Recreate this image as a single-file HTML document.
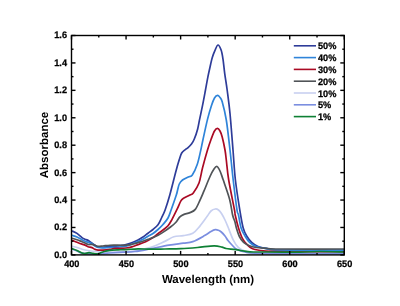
<!DOCTYPE html>
<html><head><meta charset="utf-8"><style>
html,body{margin:0;padding:0;background:#fff;width:400px;height:306px;overflow:hidden}
svg{display:block;will-change:transform}
</style></head><body>
<svg width="400" height="306" viewBox="0 0 400 306" text-rendering="geometricPrecision">
<defs><clipPath id="pc"><rect x="71.5" y="35.5" width="272.8" height="219.4"/></clipPath></defs>
<g clip-path="url(#pc)" fill="none" stroke-width="1.7" stroke-linejoin="round" stroke-linecap="round">
<path d="M72.00,230.90 C72.83,231.32 75.33,232.28 77.00,233.40 C78.67,234.52 80.67,236.63 82.00,237.60 C83.33,238.57 84.17,238.82 85.00,239.20 C85.83,239.58 86.33,239.60 87.00,239.90 C87.67,240.20 88.17,240.45 89.00,241.00 C89.83,241.55 91.00,242.50 92.00,243.20 C93.00,243.90 94.00,244.60 95.00,245.20 C96.00,245.80 96.67,246.45 98.00,246.80 C99.33,247.15 101.00,247.38 103.00,247.30 C105.00,247.22 108.00,246.45 110.00,246.30 C112.00,246.15 113.33,246.52 115.00,246.40 C116.67,246.28 118.17,245.92 120.00,245.60 C121.83,245.28 123.83,245.05 126.00,244.50 C128.17,243.95 131.00,243.05 133.00,242.30 C135.00,241.55 136.33,240.88 138.00,240.00 C139.67,239.12 141.33,238.13 143.00,237.00 C144.67,235.87 146.33,234.45 148.00,233.20 C149.67,231.95 151.33,230.90 153.00,229.50 C154.67,228.10 156.58,226.72 158.00,224.80 C159.42,222.88 160.32,220.47 161.50,218.00 C162.68,215.53 163.72,213.83 165.10,210.00 C166.48,206.17 167.98,201.50 169.80,195.00 C171.62,188.50 174.42,176.90 176.00,171.00 C177.58,165.10 178.35,162.60 179.30,159.60 C180.25,156.60 180.75,154.63 181.70,153.00 C182.65,151.37 184.05,150.60 185.00,149.80 C185.95,149.00 186.32,149.15 187.40,148.20 C188.48,147.25 190.35,145.63 191.50,144.10 C192.65,142.57 193.28,141.48 194.30,139.00 C195.32,136.52 196.72,132.47 197.60,129.20 C198.48,125.93 198.78,123.32 199.60,119.40 C200.42,115.48 201.55,110.43 202.50,105.70 C203.45,100.97 204.40,95.82 205.30,91.00 C206.20,86.18 207.02,81.22 207.90,76.80 C208.78,72.38 209.87,67.73 210.60,64.50 C211.33,61.27 211.57,59.77 212.30,57.40 C213.03,55.03 214.05,52.37 215.00,50.30 C215.95,48.23 216.97,45.00 218.00,45.00 C219.03,45.00 220.37,47.93 221.20,50.30 C222.03,52.67 222.42,55.37 223.00,59.20 C223.58,63.03 223.98,68.00 224.70,73.30 C225.42,78.60 226.42,84.30 227.30,91.00 C228.18,97.70 229.05,103.67 230.00,113.50 C230.95,123.33 232.10,138.92 233.00,150.00 C233.90,161.08 234.27,170.00 235.40,180.00 C236.53,190.00 238.50,202.00 239.80,210.00 C241.10,218.00 242.00,223.58 243.20,228.00 C244.40,232.42 245.58,234.10 247.00,236.50 C248.42,238.90 249.87,240.73 251.70,242.40 C253.53,244.07 255.62,245.50 258.00,246.50 C260.38,247.50 262.33,247.82 266.00,248.40 C269.67,248.98 267.00,249.70 280.00,250.00 C293.00,250.30 333.33,250.17 344.00,250.20" stroke="#2e3c99"/>
<path d="M72.00,235.30 C72.83,235.58 75.33,236.27 77.00,237.00 C78.67,237.73 80.67,239.00 82.00,239.70 C83.33,240.40 84.17,240.83 85.00,241.20 C85.83,241.57 85.83,241.50 87.00,241.90 C88.17,242.30 90.67,242.92 92.00,243.60 C93.33,244.28 94.00,245.35 95.00,246.00 C96.00,246.65 96.67,247.18 98.00,247.50 C99.33,247.82 101.00,247.90 103.00,247.90 C105.00,247.90 107.50,247.63 110.00,247.50 C112.50,247.37 115.33,247.32 118.00,247.10 C120.67,246.88 123.50,246.75 126.00,246.20 C128.50,245.65 131.00,244.58 133.00,243.80 C135.00,243.02 136.33,242.25 138.00,241.50 C139.67,240.75 141.33,240.17 143.00,239.30 C144.67,238.43 146.33,237.27 148.00,236.30 C149.67,235.33 151.33,234.63 153.00,233.50 C154.67,232.37 156.33,231.00 158.00,229.50 C159.67,228.00 161.33,226.42 163.00,224.50 C164.67,222.58 166.65,220.42 168.00,218.00 C169.35,215.58 169.72,213.83 171.10,210.00 C172.48,206.17 175.22,198.33 176.30,195.00 C177.38,191.67 177.10,191.83 177.60,190.00 C178.10,188.17 178.48,185.67 179.30,184.00 C180.12,182.33 180.88,181.22 182.50,180.00 C184.12,178.78 187.37,177.52 189.00,176.70 C190.63,175.88 190.93,177.13 192.30,175.10 C193.67,173.07 195.83,168.45 197.20,164.50 C198.57,160.55 199.55,155.48 200.50,151.40 C201.45,147.32 201.73,145.33 202.90,140.00 C204.07,134.67 206.08,125.12 207.50,119.40 C208.92,113.68 210.23,109.27 211.40,105.70 C212.57,102.13 213.47,99.73 214.50,98.00 C215.53,96.27 216.68,95.38 217.60,95.30 C218.52,95.22 219.23,96.42 220.00,97.50 C220.77,98.58 221.15,98.05 222.20,101.80 C223.25,105.55 225.00,111.97 226.30,120.00 C227.60,128.03 228.85,140.00 230.00,150.00 C231.15,160.00 232.03,170.00 233.20,180.00 C234.37,190.00 236.12,204.17 237.00,210.00 C237.88,215.83 237.82,212.00 238.50,215.00 C239.18,218.00 239.97,224.42 241.10,228.00 C242.23,231.58 243.88,234.10 245.30,236.50 C246.72,238.90 247.82,240.73 249.60,242.40 C251.38,244.07 253.27,245.50 256.00,246.50 C258.73,247.50 262.00,247.82 266.00,248.40 C270.00,248.98 267.00,249.70 280.00,250.00 C293.00,250.30 333.33,250.17 344.00,250.20" stroke="#2f84d9"/>
<path d="M72.00,240.20 C72.83,240.53 75.33,241.55 77.00,242.20 C78.67,242.85 80.67,243.62 82.00,244.10 C83.33,244.58 84.00,244.67 85.00,245.10 C86.00,245.53 86.83,246.28 88.00,246.70 C89.17,247.12 90.83,247.15 92.00,247.60 C93.17,248.05 94.00,248.98 95.00,249.40 C96.00,249.82 96.67,249.98 98.00,250.10 C99.33,250.22 101.00,250.22 103.00,250.10 C105.00,249.98 108.00,249.68 110.00,249.40 C112.00,249.12 112.33,248.63 115.00,248.40 C117.67,248.17 123.00,248.32 126.00,248.00 C129.00,247.68 131.00,247.07 133.00,246.50 C135.00,245.93 136.33,245.22 138.00,244.60 C139.67,243.98 141.33,243.48 143.00,242.80 C144.67,242.12 146.33,241.38 148.00,240.50 C149.67,239.62 151.33,238.63 153.00,237.50 C154.67,236.37 156.33,234.95 158.00,233.70 C159.67,232.45 161.33,231.32 163.00,230.00 C164.67,228.68 166.53,227.50 168.00,225.80 C169.47,224.10 170.30,222.53 171.80,219.80 C173.30,217.07 175.48,212.55 177.00,209.40 C178.52,206.25 179.82,202.75 180.90,200.90 C181.98,199.05 181.98,199.28 183.50,198.30 C185.02,197.32 188.37,195.90 190.00,195.00 C191.63,194.10 191.80,194.90 193.30,192.90 C194.80,190.90 197.47,187.15 199.00,183.00 C200.53,178.85 201.08,173.50 202.50,168.00 C203.92,162.50 206.05,154.83 207.50,150.00 C208.95,145.17 210.03,142.17 211.20,139.00 C212.37,135.83 213.47,132.77 214.50,131.00 C215.53,129.23 216.48,128.40 217.40,128.40 C218.32,128.40 219.20,129.57 220.00,131.00 C220.80,132.43 221.37,133.83 222.20,137.00 C223.03,140.17 224.32,146.17 225.00,150.00 C225.68,153.83 225.68,155.00 226.30,160.00 C226.92,165.00 227.33,171.67 228.70,180.00 C230.07,188.33 233.42,204.17 234.50,210.00 C235.58,215.83 234.53,212.00 235.20,215.00 C235.87,218.00 237.45,224.42 238.50,228.00 C239.55,231.58 240.58,234.33 241.50,236.50 C242.42,238.67 243.08,239.67 244.00,241.00 C244.92,242.33 246.00,243.45 247.00,244.50 C248.00,245.55 248.67,246.47 250.00,247.30 C251.33,248.13 252.33,248.87 255.00,249.50 C257.67,250.13 260.17,250.72 266.00,251.10 C271.83,251.48 277.00,251.67 290.00,251.80 C303.00,251.93 335.00,251.88 344.00,251.90" stroke="#aa0a24"/>
<path d="M72.00,238.30 C72.83,238.53 75.33,239.13 77.00,239.70 C78.67,240.27 80.67,241.17 82.00,241.70 C83.33,242.23 84.00,242.43 85.00,242.90 C86.00,243.37 86.83,244.25 88.00,244.50 C89.17,244.75 90.83,244.27 92.00,244.40 C93.17,244.53 94.00,244.97 95.00,245.30 C96.00,245.63 96.67,246.28 98.00,246.40 C99.33,246.52 101.00,246.19 103.00,246.00 C105.00,245.81 107.50,245.38 110.00,245.25 C112.50,245.12 115.33,245.21 118.00,245.20 C120.67,245.19 123.50,245.40 126.00,245.20 C128.50,245.00 131.00,244.43 133.00,244.00 C135.00,243.57 136.33,243.07 138.00,242.60 C139.67,242.13 141.33,241.73 143.00,241.20 C144.67,240.67 146.33,240.02 148.00,239.40 C149.67,238.78 151.33,238.20 153.00,237.50 C154.67,236.80 156.17,236.18 158.00,235.20 C159.83,234.22 161.92,232.97 164.00,231.60 C166.08,230.23 168.55,228.52 170.50,227.00 C172.45,225.48 174.18,224.13 175.70,222.50 C177.22,220.87 178.30,218.52 179.60,217.20 C180.90,215.88 181.77,215.37 183.50,214.60 C185.23,213.83 188.03,213.47 190.00,212.60 C191.97,211.73 193.63,211.47 195.30,209.40 C196.97,207.33 198.57,203.23 200.00,200.20 C201.43,197.17 202.23,195.15 203.90,191.20 C205.57,187.25 208.32,180.20 210.00,176.50 C211.68,172.80 212.83,170.67 214.00,169.00 C215.17,167.33 216.00,166.17 217.00,166.50 C218.00,166.83 218.98,168.82 220.00,171.00 C221.02,173.18 221.50,174.90 223.10,179.60 C224.70,184.30 228.02,193.30 229.60,199.20 C231.18,205.10 231.70,211.20 232.60,215.00 C233.50,218.80 234.37,219.83 235.00,222.00 C235.63,224.17 235.67,225.58 236.40,228.00 C237.13,230.42 238.20,234.10 239.40,236.50 C240.60,238.90 241.93,240.85 243.60,242.40 C245.27,243.95 247.33,244.95 249.40,245.80 C251.47,246.65 253.23,247.08 256.00,247.50 C258.77,247.92 262.00,248.05 266.00,248.30 C270.00,248.55 267.00,248.88 280.00,249.00 C293.00,249.12 333.33,249.00 344.00,249.00" stroke="#505458"/>
<path d="M72.00,246.30 C72.83,246.50 75.33,247.02 77.00,247.50 C78.67,247.98 80.17,248.70 82.00,249.20 C83.83,249.70 85.83,250.12 88.00,250.50 C90.17,250.88 92.50,251.20 95.00,251.50 C97.50,251.80 100.50,252.18 103.00,252.30 C105.50,252.42 107.17,252.28 110.00,252.20 C112.83,252.12 115.83,252.03 120.00,251.80 C124.17,251.57 130.00,251.52 135.00,250.80 C140.00,250.08 145.12,249.03 150.00,247.50 C154.88,245.97 160.33,243.38 164.30,241.60 C168.27,239.82 170.63,237.80 173.80,236.80 C176.97,235.80 180.13,236.18 183.30,235.60 C186.47,235.02 190.03,234.88 192.80,233.30 C195.57,231.72 197.53,228.88 199.90,226.10 C202.27,223.32 205.15,219.12 207.00,216.60 C208.85,214.08 209.62,212.27 211.00,211.00 C212.38,209.73 214.05,209.17 215.30,209.00 C216.55,208.83 217.47,209.25 218.50,210.00 C219.53,210.75 220.42,211.83 221.50,213.50 C222.58,215.17 223.92,217.75 225.00,220.00 C226.08,222.25 226.63,223.70 228.00,227.00 C229.37,230.30 231.45,236.35 233.20,239.80 C234.95,243.25 236.53,245.83 238.50,247.70 C240.47,249.57 241.42,250.12 245.00,251.00 C248.58,251.88 243.50,252.57 260.00,253.00 C276.50,253.43 330.00,253.50 344.00,253.60" stroke="#c8d0f0"/>
<path d="M72.00,249.20 C72.83,249.50 75.33,250.33 77.00,251.00 C78.67,251.67 79.50,252.73 82.00,253.20 C84.50,253.67 88.50,253.73 92.00,253.80 C95.50,253.87 100.00,253.73 103.00,253.60 C106.00,253.47 107.17,253.20 110.00,253.00 C112.83,252.80 115.83,252.65 120.00,252.40 C124.17,252.15 130.00,252.08 135.00,251.50 C140.00,250.92 144.33,249.97 150.00,248.90 C155.67,247.83 163.45,246.05 169.00,245.10 C174.55,244.15 179.33,243.78 183.30,243.20 C187.27,242.62 189.25,242.87 192.80,241.60 C196.35,240.33 201.57,237.28 204.60,235.60 C207.63,233.92 209.22,232.48 211.00,231.50 C212.78,230.52 214.05,229.90 215.30,229.70 C216.55,229.50 217.50,229.92 218.50,230.30 C219.50,230.68 220.22,231.05 221.30,232.00 C222.38,232.95 223.88,234.58 225.00,236.00 C226.12,237.42 226.83,239.00 228.00,240.50 C229.17,242.00 230.50,243.48 232.00,245.00 C233.50,246.52 234.83,248.43 237.00,249.60 C239.17,250.77 241.17,251.38 245.00,252.00 C248.83,252.62 243.50,253.03 260.00,253.30 C276.50,253.57 330.00,253.55 344.00,253.60" stroke="#7b8ee0"/>
<path d="M72.00,248.60 C72.83,248.92 75.33,249.77 77.00,250.50 C78.67,251.23 80.67,252.50 82.00,253.00 C83.33,253.50 83.83,253.57 85.00,253.50 C86.17,253.43 87.67,252.62 89.00,252.60 C90.33,252.58 91.50,253.18 93.00,253.40 C94.50,253.62 96.50,254.10 98.00,253.90 C99.50,253.70 100.50,252.70 102.00,252.20 C103.50,251.70 105.33,251.25 107.00,250.90 C108.67,250.55 110.17,250.28 112.00,250.10 C113.83,249.92 115.67,249.88 118.00,249.80 C120.33,249.72 122.67,249.77 126.00,249.60 C129.33,249.43 134.00,248.87 138.00,248.80 C142.00,248.73 145.50,249.17 150.00,249.20 C154.50,249.23 159.85,249.08 165.00,249.00 C170.15,248.92 175.48,248.95 180.90,248.70 C186.32,248.45 191.97,247.98 197.50,247.50 C203.03,247.02 210.02,245.85 214.10,245.80 C218.18,245.75 220.02,246.75 222.00,247.20 C223.98,247.65 223.67,248.08 226.00,248.50 C228.33,248.92 232.00,249.15 236.00,249.70 C240.00,250.25 245.00,251.42 250.00,251.80 C255.00,252.18 257.67,251.95 266.00,252.00 C274.33,252.05 291.00,252.18 300.00,252.10 C309.00,252.02 312.67,251.52 320.00,251.50 C327.33,251.48 340.00,251.92 344.00,252.00" stroke="#0e8034"/>
</g>
<g stroke="#000" stroke-width="1.4"><rect x="71.5" y="35.5" width="272.8" height="219.4" fill="none" stroke="#000" stroke-width="1.4"/><line x1="71.50" y1="254.9" x2="71.50" y2="250.9"/><line x1="71.50" y1="35.5" x2="71.50" y2="39.5"/><line x1="98.78" y1="254.9" x2="98.78" y2="252.9"/><line x1="98.78" y1="35.5" x2="98.78" y2="37.5"/><line x1="126.06" y1="254.9" x2="126.06" y2="250.9"/><line x1="126.06" y1="35.5" x2="126.06" y2="39.5"/><line x1="153.34" y1="254.9" x2="153.34" y2="252.9"/><line x1="153.34" y1="35.5" x2="153.34" y2="37.5"/><line x1="180.62" y1="254.9" x2="180.62" y2="250.9"/><line x1="180.62" y1="35.5" x2="180.62" y2="39.5"/><line x1="207.90" y1="254.9" x2="207.90" y2="252.9"/><line x1="207.90" y1="35.5" x2="207.90" y2="37.5"/><line x1="235.18" y1="254.9" x2="235.18" y2="250.9"/><line x1="235.18" y1="35.5" x2="235.18" y2="39.5"/><line x1="262.46" y1="254.9" x2="262.46" y2="252.9"/><line x1="262.46" y1="35.5" x2="262.46" y2="37.5"/><line x1="289.74" y1="254.9" x2="289.74" y2="250.9"/><line x1="289.74" y1="35.5" x2="289.74" y2="39.5"/><line x1="317.02" y1="254.9" x2="317.02" y2="252.9"/><line x1="317.02" y1="35.5" x2="317.02" y2="37.5"/><line x1="344.30" y1="254.9" x2="344.30" y2="250.9"/><line x1="344.30" y1="35.5" x2="344.30" y2="39.5"/><line x1="71.5" y1="254.90" x2="75.5" y2="254.90"/><line x1="344.3" y1="254.90" x2="340.3" y2="254.90"/><line x1="71.5" y1="241.19" x2="73.5" y2="241.19"/><line x1="344.3" y1="241.19" x2="342.3" y2="241.19"/><line x1="71.5" y1="227.47" x2="75.5" y2="227.47"/><line x1="344.3" y1="227.47" x2="340.3" y2="227.47"/><line x1="71.5" y1="213.76" x2="73.5" y2="213.76"/><line x1="344.3" y1="213.76" x2="342.3" y2="213.76"/><line x1="71.5" y1="200.05" x2="75.5" y2="200.05"/><line x1="344.3" y1="200.05" x2="340.3" y2="200.05"/><line x1="71.5" y1="186.34" x2="73.5" y2="186.34"/><line x1="344.3" y1="186.34" x2="342.3" y2="186.34"/><line x1="71.5" y1="172.62" x2="75.5" y2="172.62"/><line x1="344.3" y1="172.62" x2="340.3" y2="172.62"/><line x1="71.5" y1="158.91" x2="73.5" y2="158.91"/><line x1="344.3" y1="158.91" x2="342.3" y2="158.91"/><line x1="71.5" y1="145.20" x2="75.5" y2="145.20"/><line x1="344.3" y1="145.20" x2="340.3" y2="145.20"/><line x1="71.5" y1="131.49" x2="73.5" y2="131.49"/><line x1="344.3" y1="131.49" x2="342.3" y2="131.49"/><line x1="71.5" y1="117.78" x2="75.5" y2="117.78"/><line x1="344.3" y1="117.78" x2="340.3" y2="117.78"/><line x1="71.5" y1="104.06" x2="73.5" y2="104.06"/><line x1="344.3" y1="104.06" x2="342.3" y2="104.06"/><line x1="71.5" y1="90.35" x2="75.5" y2="90.35"/><line x1="344.3" y1="90.35" x2="340.3" y2="90.35"/><line x1="71.5" y1="76.64" x2="73.5" y2="76.64"/><line x1="344.3" y1="76.64" x2="342.3" y2="76.64"/><line x1="71.5" y1="62.93" x2="75.5" y2="62.93"/><line x1="344.3" y1="62.93" x2="340.3" y2="62.93"/><line x1="71.5" y1="49.21" x2="73.5" y2="49.21"/><line x1="344.3" y1="49.21" x2="342.3" y2="49.21"/><line x1="71.5" y1="35.50" x2="75.5" y2="35.50"/><line x1="344.3" y1="35.50" x2="340.3" y2="35.50"/></g>
<g font-family="Liberation Sans, sans-serif" font-weight="bold" font-size="9.2" fill="#000" stroke="#000" stroke-width="0.25"><text transform="translate(71.80,267.2) scale(1,1.03)" text-anchor="middle">400</text><text transform="translate(126.36,267.2) scale(1,1.03)" text-anchor="middle">450</text><text transform="translate(180.92,267.2) scale(1,1.03)" text-anchor="middle">500</text><text transform="translate(235.48,267.2) scale(1,1.03)" text-anchor="middle">550</text><text transform="translate(290.04,267.2) scale(1,1.03)" text-anchor="middle">600</text><text transform="translate(344.60,267.2) scale(1,1.03)" text-anchor="middle">650</text><text transform="translate(67.0,257.80) scale(1,1.03)" text-anchor="end">0.0</text><text transform="translate(67.0,230.38) scale(1,1.03)" text-anchor="end">0.2</text><text transform="translate(67.0,202.95) scale(1,1.03)" text-anchor="end">0.4</text><text transform="translate(67.0,175.53) scale(1,1.03)" text-anchor="end">0.6</text><text transform="translate(67.0,148.10) scale(1,1.03)" text-anchor="end">0.8</text><text transform="translate(67.0,120.68) scale(1,1.03)" text-anchor="end">1.0</text><text transform="translate(67.0,93.25) scale(1,1.03)" text-anchor="end">1.2</text><text transform="translate(67.0,65.83) scale(1,1.03)" text-anchor="end">1.4</text><text transform="translate(67.0,38.40) scale(1,1.03)" text-anchor="end">1.6</text></g>
<text x="208" y="283.2" text-anchor="middle" font-family="Liberation Sans, sans-serif" font-weight="bold" font-size="11.5">Wavelength (nm)</text>
<text transform="translate(48.4,145) rotate(-90)" x="0" y="0" text-anchor="middle" font-family="Liberation Sans, sans-serif" font-weight="bold" font-size="11.5">Absorbance</text>
<line x1="293.8" y1="45.80" x2="316" y2="45.80" stroke="#2e3c99" stroke-width="1.6"/><text transform="translate(318,49.40) scale(1,1.03)" font-family="Liberation Sans, sans-serif" font-weight="bold" font-size="9.2" stroke="#000" stroke-width="0.25">50%</text><line x1="293.8" y1="57.60" x2="316" y2="57.60" stroke="#2f84d9" stroke-width="1.6"/><text transform="translate(318,61.20) scale(1,1.03)" font-family="Liberation Sans, sans-serif" font-weight="bold" font-size="9.2" stroke="#000" stroke-width="0.25">40%</text><line x1="293.8" y1="69.40" x2="316" y2="69.40" stroke="#aa0a24" stroke-width="1.6"/><text transform="translate(318,73.00) scale(1,1.03)" font-family="Liberation Sans, sans-serif" font-weight="bold" font-size="9.2" stroke="#000" stroke-width="0.25">30%</text><line x1="293.8" y1="81.20" x2="316" y2="81.20" stroke="#505458" stroke-width="1.6"/><text transform="translate(318,84.80) scale(1,1.03)" font-family="Liberation Sans, sans-serif" font-weight="bold" font-size="9.2" stroke="#000" stroke-width="0.25">20%</text><line x1="293.8" y1="93.00" x2="316" y2="93.00" stroke="#c8d0f0" stroke-width="1.6"/><text transform="translate(318,96.60) scale(1,1.03)" font-family="Liberation Sans, sans-serif" font-weight="bold" font-size="9.2" stroke="#000" stroke-width="0.25">10%</text><line x1="293.8" y1="104.80" x2="316" y2="104.80" stroke="#7b8ee0" stroke-width="1.6"/><text transform="translate(318,108.40) scale(1,1.03)" font-family="Liberation Sans, sans-serif" font-weight="bold" font-size="9.2" stroke="#000" stroke-width="0.25">5%</text><line x1="293.8" y1="116.60" x2="316" y2="116.60" stroke="#0e8034" stroke-width="1.6"/><text transform="translate(318,120.20) scale(1,1.03)" font-family="Liberation Sans, sans-serif" font-weight="bold" font-size="9.2" stroke="#000" stroke-width="0.25">1%</text>
</svg>
</body></html>
